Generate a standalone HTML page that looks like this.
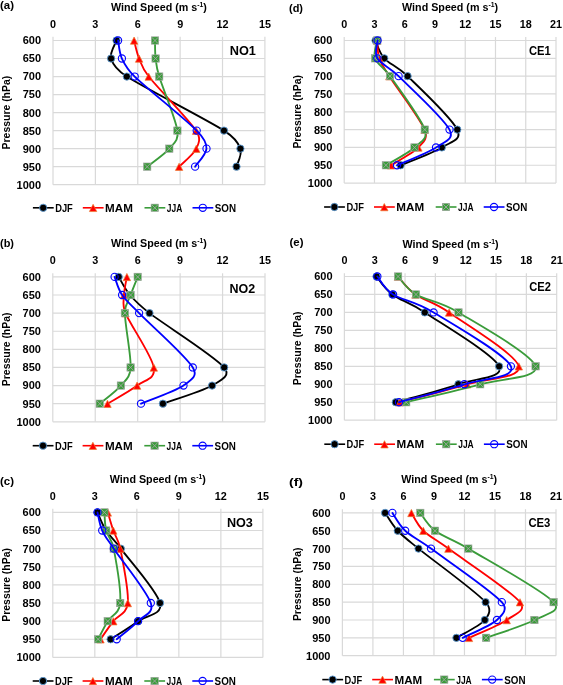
<!DOCTYPE html>
<html><head><meta charset="utf-8"><title>Wind speed profiles</title>
<style>html,body{margin:0;padding:0;background:#fff;width:563px;height:685px;overflow:hidden}svg{display:block;will-change:transform}</style>
</head><body><svg width="563" height="685" viewBox="0 0 563 685"><g stroke="#d9d9d9" stroke-width="1.2" fill="none"><line x1="53" y1="40.5" x2="264.9" y2="40.5"/><line x1="53" y1="58.52" x2="264.9" y2="58.52"/><line x1="53" y1="76.55" x2="264.9" y2="76.55"/><line x1="53" y1="94.57" x2="264.9" y2="94.57"/><line x1="53" y1="112.6" x2="264.9" y2="112.6"/><line x1="53" y1="130.62" x2="264.9" y2="130.62"/><line x1="53" y1="148.65" x2="264.9" y2="148.65"/><line x1="53" y1="166.67" x2="264.9" y2="166.67"/><line x1="53" y1="184.7" x2="264.9" y2="184.7"/><line x1="53" y1="36.8" x2="53" y2="184.7"/><line x1="95.38" y1="36.8" x2="95.38" y2="184.7"/><line x1="137.76" y1="36.8" x2="137.76" y2="184.7"/><line x1="180.14" y1="36.8" x2="180.14" y2="184.7"/><line x1="222.52" y1="36.8" x2="222.52" y2="184.7"/><line x1="264.9" y1="36.8" x2="264.9" y2="184.7"/></g><path d="M116.5,40.5 C115.6,43.5 109.38,52.52 111.1,58.52 C112.82,64.53 116.73,70.12 126.8,76.55 C145.62,88.57 205.07,118.61 224,130.62 C234.29,137.15 238.32,142.64 240.4,148.65 C242.48,154.66 237.15,163.67 236.5,166.67" fill="none" stroke="#000000" stroke-width="1.85" stroke-linejoin="round" stroke-linecap="round"/><circle cx="116.5" cy="40.5" r="3.65" fill="#000" stroke="#5b9bd5" stroke-width="0.9"/><circle cx="111.1" cy="58.52" r="3.65" fill="#000" stroke="#5b9bd5" stroke-width="0.9"/><circle cx="126.8" cy="76.55" r="3.65" fill="#000" stroke="#5b9bd5" stroke-width="0.9"/><circle cx="224" cy="130.62" r="3.65" fill="#000" stroke="#5b9bd5" stroke-width="0.9"/><circle cx="240.4" cy="148.65" r="3.65" fill="#000" stroke="#5b9bd5" stroke-width="0.9"/><circle cx="236.5" cy="166.67" r="3.65" fill="#000" stroke="#5b9bd5" stroke-width="0.9"/><path d="M134.1,40.5 C134.93,43.5 136.67,52.52 139.1,58.52 C141.53,64.53 142.37,68.54 148.7,76.55 C158.2,88.57 188.17,118.61 196.1,130.62 C201.07,138.15 199.13,142.64 196.3,148.65 C193.47,154.66 181.97,163.67 179.1,166.67" fill="none" stroke="#ff0000" stroke-width="1.85" stroke-linejoin="round" stroke-linecap="round"/><path d="M134.1,37 L137.8,44.25 L130.4,44.25 Z" fill="#ff0000" stroke="#ed7d31" stroke-width="0.7" stroke-linejoin="miter"/><path d="M139.1,55.02 L142.8,62.27 L135.4,62.27 Z" fill="#ff0000" stroke="#ed7d31" stroke-width="0.7" stroke-linejoin="miter"/><path d="M148.7,73.05 L152.4,80.3 L145,80.3 Z" fill="#ff0000" stroke="#ed7d31" stroke-width="0.7" stroke-linejoin="miter"/><path d="M196.1,127.12 L199.8,134.38 L192.4,134.38 Z" fill="#ff0000" stroke="#ed7d31" stroke-width="0.7" stroke-linejoin="miter"/><path d="M196.3,145.15 L200,152.4 L192.6,152.4 Z" fill="#ff0000" stroke="#ed7d31" stroke-width="0.7" stroke-linejoin="miter"/><path d="M179.1,163.17 L182.8,170.42 L175.4,170.42 Z" fill="#ff0000" stroke="#ed7d31" stroke-width="0.7" stroke-linejoin="miter"/><path d="M155,40.5 C155.1,43.5 154.9,52.52 155.6,58.52 C156.3,64.53 156.54,67.75 159.2,76.55 C162.83,88.57 175.72,118.61 177.4,130.62 C178.77,140.41 174.33,142.64 169.3,148.65 C164.27,154.66 150.88,163.67 147.2,166.67" fill="none" stroke="#3a9c3a" stroke-width="1.85" stroke-linejoin="round" stroke-linecap="round"/><rect x="151.3" y="36.8" width="7.4" height="7.4" fill="#3a9c3a" stroke="#a5a5a5" stroke-width="0.6"/><path d="M151.8,37.3 L158.2,43.7 M158.2,37.3 L151.8,43.7" stroke="#a5a5a5" stroke-width="0.9"/><rect x="151.9" y="54.82" width="7.4" height="7.4" fill="#3a9c3a" stroke="#a5a5a5" stroke-width="0.6"/><path d="M152.4,55.32 L158.8,61.73 M158.8,55.32 L152.4,61.73" stroke="#a5a5a5" stroke-width="0.9"/><rect x="155.5" y="72.85" width="7.4" height="7.4" fill="#3a9c3a" stroke="#a5a5a5" stroke-width="0.6"/><path d="M156,73.35 L162.4,79.75 M162.4,73.35 L156,79.75" stroke="#a5a5a5" stroke-width="0.9"/><rect x="173.7" y="126.92" width="7.4" height="7.4" fill="#3a9c3a" stroke="#a5a5a5" stroke-width="0.6"/><path d="M174.2,127.42 L180.6,133.82 M180.6,127.42 L174.2,133.82" stroke="#a5a5a5" stroke-width="0.9"/><rect x="165.6" y="144.95" width="7.4" height="7.4" fill="#3a9c3a" stroke="#a5a5a5" stroke-width="0.6"/><path d="M166.1,145.45 L172.5,151.85 M172.5,145.45 L166.1,151.85" stroke="#a5a5a5" stroke-width="0.9"/><rect x="143.5" y="162.97" width="7.4" height="7.4" fill="#3a9c3a" stroke="#a5a5a5" stroke-width="0.6"/><path d="M144,163.47 L150.4,169.87 M150.4,163.47 L144,169.87" stroke="#a5a5a5" stroke-width="0.9"/><path d="M118.1,40.5 C118.73,43.5 119.13,52.52 121.9,58.52 C124.67,64.53 126.74,68.88 134.7,76.55 C147.17,88.57 184.73,118.61 196.7,130.62 C203.94,137.89 206.77,142.64 206.5,148.65 C206.23,154.66 197,163.67 195.1,166.67" fill="none" stroke="#0000ff" stroke-width="1.85" stroke-linejoin="round" stroke-linecap="round"/><circle cx="118.1" cy="40.5" r="3.6" fill="none" stroke="#0000ff" stroke-width="1.1"/><circle cx="121.9" cy="58.52" r="3.6" fill="none" stroke="#0000ff" stroke-width="1.1"/><circle cx="134.7" cy="76.55" r="3.6" fill="none" stroke="#0000ff" stroke-width="1.1"/><circle cx="196.7" cy="130.62" r="3.6" fill="none" stroke="#0000ff" stroke-width="1.1"/><circle cx="206.5" cy="148.65" r="3.6" fill="none" stroke="#0000ff" stroke-width="1.1"/><circle cx="195.1" cy="166.67" r="3.6" fill="none" stroke="#0000ff" stroke-width="1.1"/><g font-family='"Liberation Sans", sans-serif' font-weight="bold" fill="#000"><text x="0" y="9.3" font-size="10.8" text-anchor="start" textLength="14" lengthAdjust="spacingAndGlyphs">(a)</text><text x="158.95" y="10.7" font-size="11" text-anchor="middle" textLength="96" lengthAdjust="spacingAndGlyphs">Wind Speed (m s<tspan font-size="7" dy="-4">-1</tspan><tspan dy="4">)</tspan></text><text x="53" y="28.1" font-size="10.8" text-anchor="middle">0</text><text x="95.38" y="28.1" font-size="10.8" text-anchor="middle">3</text><text x="137.76" y="28.1" font-size="10.8" text-anchor="middle">6</text><text x="180.14" y="28.1" font-size="10.8" text-anchor="middle">9</text><text x="222.52" y="28.1" font-size="10.8" text-anchor="middle">12</text><text x="264.9" y="28.1" font-size="10.8" text-anchor="middle">15</text><text x="41.1" y="44.4" font-size="11" text-anchor="end">600</text><text x="41.1" y="62.42" font-size="11" text-anchor="end">650</text><text x="41.1" y="80.45" font-size="11" text-anchor="end">700</text><text x="41.1" y="98.47" font-size="11" text-anchor="end">750</text><text x="41.1" y="116.5" font-size="11" text-anchor="end">800</text><text x="41.1" y="134.53" font-size="11" text-anchor="end">850</text><text x="41.1" y="152.55" font-size="11" text-anchor="end">900</text><text x="41.1" y="170.57" font-size="11" text-anchor="end">950</text><text x="41.1" y="188.6" font-size="11" text-anchor="end">1000</text><text x="0" y="0" font-size="10.8" text-anchor="middle" textLength="73.6" lengthAdjust="spacingAndGlyphs" transform="translate(10,112.6) rotate(-90)">Pressure (hPa)</text><text x="229.7" y="55.2" font-size="13" text-anchor="start" textLength="26.2" lengthAdjust="spacingAndGlyphs">NO1</text></g><g font-family='"Liberation Sans", sans-serif' font-weight="bold" fill="#000"><line x1="32.9" y1="207.8" x2="53.7" y2="207.8" stroke="#000000" stroke-width="1.6"/><circle cx="43.2" cy="207.8" r="3.65" fill="#000" stroke="#5b9bd5" stroke-width="0.9"/><text x="55.2" y="211.7" font-size="10.8" text-anchor="start" textLength="17.6" lengthAdjust="spacingAndGlyphs">DJF</text><line x1="82.8" y1="207.8" x2="103.6" y2="207.8" stroke="#ff0000" stroke-width="1.6"/><path d="M93.1,204.3 L96.8,211.55 L89.4,211.55 Z" fill="#ff0000" stroke="#ed7d31" stroke-width="0.7" stroke-linejoin="miter"/><text x="105.1" y="211.7" font-size="10.8" text-anchor="start" textLength="27.8" lengthAdjust="spacingAndGlyphs">MAM</text><line x1="144.5" y1="207.8" x2="165.3" y2="207.8" stroke="#3a9c3a" stroke-width="1.6"/><rect x="151.1" y="204.1" width="7.4" height="7.4" fill="#3a9c3a" stroke="#a5a5a5" stroke-width="0.6"/><path d="M151.6,204.6 L158,211 M158,204.6 L151.6,211" stroke="#a5a5a5" stroke-width="0.9"/><text x="166.8" y="211.7" font-size="10.8" text-anchor="start" textLength="15.5" lengthAdjust="spacingAndGlyphs">JJA</text><line x1="192.5" y1="207.8" x2="213.3" y2="207.8" stroke="#0000ff" stroke-width="1.6"/><circle cx="202.8" cy="207.8" r="3.6" fill="none" stroke="#0000ff" stroke-width="1.1"/><text x="214.8" y="211.7" font-size="10.8" text-anchor="start" textLength="21.3" lengthAdjust="spacingAndGlyphs">SON</text></g><g stroke="#d9d9d9" stroke-width="1.2" fill="none"><line x1="52.8" y1="276.9" x2="265" y2="276.9"/><line x1="52.8" y1="295.01" x2="265" y2="295.01"/><line x1="52.8" y1="313.12" x2="265" y2="313.12"/><line x1="52.8" y1="331.24" x2="265" y2="331.24"/><line x1="52.8" y1="349.35" x2="265" y2="349.35"/><line x1="52.8" y1="367.46" x2="265" y2="367.46"/><line x1="52.8" y1="385.57" x2="265" y2="385.57"/><line x1="52.8" y1="403.69" x2="265" y2="403.69"/><line x1="52.8" y1="421.8" x2="265" y2="421.8"/><line x1="52.8" y1="273.3" x2="52.8" y2="421.8"/><line x1="95.24" y1="273.3" x2="95.24" y2="421.8"/><line x1="137.68" y1="273.3" x2="137.68" y2="421.8"/><line x1="180.12" y1="273.3" x2="180.12" y2="421.8"/><line x1="222.56" y1="273.3" x2="222.56" y2="421.8"/><line x1="265" y1="273.3" x2="265" y2="421.8"/></g><path d="M118.7,276.9 C120.58,279.92 124.87,288.97 130,295.01 C135.13,301.05 138.95,305.01 149.5,313.12 C165.2,325.2 213.77,355.39 224.2,367.46 C231.32,375.7 221.48,380.03 212.1,385.57 C201.88,391.61 171.1,400.67 162.9,403.69" fill="none" stroke="#000000" stroke-width="1.85" stroke-linejoin="round" stroke-linecap="round"/><circle cx="118.7" cy="276.9" r="3.65" fill="#000" stroke="#5b9bd5" stroke-width="0.9"/><circle cx="130" cy="295.01" r="3.65" fill="#000" stroke="#5b9bd5" stroke-width="0.9"/><circle cx="149.5" cy="313.12" r="3.65" fill="#000" stroke="#5b9bd5" stroke-width="0.9"/><circle cx="224.2" cy="367.46" r="3.65" fill="#000" stroke="#5b9bd5" stroke-width="0.9"/><circle cx="212.1" cy="385.57" r="3.65" fill="#000" stroke="#5b9bd5" stroke-width="0.9"/><circle cx="162.9" cy="403.69" r="3.65" fill="#000" stroke="#5b9bd5" stroke-width="0.9"/><path d="M126.9,276.9 C126.42,279.92 124.23,288.97 124,295.01 C123.77,301.05 122.04,304.72 125.5,313.12 C130.47,325.2 151.87,355.39 153.8,367.46 C155.73,379.54 144.82,379.54 137.1,385.57 C129.38,391.61 112.43,400.67 107.5,403.69" fill="none" stroke="#ff0000" stroke-width="1.85" stroke-linejoin="round" stroke-linecap="round"/><path d="M126.9,273.4 L130.6,280.65 L123.2,280.65 Z" fill="#ff0000" stroke="#ed7d31" stroke-width="0.7" stroke-linejoin="miter"/><path d="M124,291.51 L127.7,298.76 L120.3,298.76 Z" fill="#ff0000" stroke="#ed7d31" stroke-width="0.7" stroke-linejoin="miter"/><path d="M125.5,309.62 L129.2,316.88 L121.8,316.88 Z" fill="#ff0000" stroke="#ed7d31" stroke-width="0.7" stroke-linejoin="miter"/><path d="M153.8,363.96 L157.5,371.21 L150.1,371.21 Z" fill="#ff0000" stroke="#ed7d31" stroke-width="0.7" stroke-linejoin="miter"/><path d="M137.1,382.07 L140.8,389.32 L133.4,389.32 Z" fill="#ff0000" stroke="#ed7d31" stroke-width="0.7" stroke-linejoin="miter"/><path d="M107.5,400.19 L111.2,407.44 L103.8,407.44 Z" fill="#ff0000" stroke="#ed7d31" stroke-width="0.7" stroke-linejoin="miter"/><path d="M137.7,276.9 C136.52,279.92 132.73,288.97 130.6,295.01 C128.47,301.05 124.9,303.63 124.9,313.12 C124.9,325.2 131.27,355.39 130.6,367.46 C130.03,377.72 126.03,379.54 120.9,385.57 C115.77,391.61 103.32,400.67 99.8,403.69" fill="none" stroke="#3a9c3a" stroke-width="1.85" stroke-linejoin="round" stroke-linecap="round"/><rect x="134" y="273.2" width="7.4" height="7.4" fill="#3a9c3a" stroke="#a5a5a5" stroke-width="0.6"/><path d="M134.5,273.7 L140.9,280.1 M140.9,273.7 L134.5,280.1" stroke="#a5a5a5" stroke-width="0.9"/><rect x="126.9" y="291.31" width="7.4" height="7.4" fill="#3a9c3a" stroke="#a5a5a5" stroke-width="0.6"/><path d="M127.4,291.81 L133.8,298.21 M133.8,291.81 L127.4,298.21" stroke="#a5a5a5" stroke-width="0.9"/><rect x="121.2" y="309.43" width="7.4" height="7.4" fill="#3a9c3a" stroke="#a5a5a5" stroke-width="0.6"/><path d="M121.7,309.93 L128.1,316.32 M128.1,309.93 L121.7,316.32" stroke="#a5a5a5" stroke-width="0.9"/><rect x="126.9" y="363.76" width="7.4" height="7.4" fill="#3a9c3a" stroke="#a5a5a5" stroke-width="0.6"/><path d="M127.4,364.26 L133.8,370.66 M133.8,364.26 L127.4,370.66" stroke="#a5a5a5" stroke-width="0.9"/><rect x="117.2" y="381.88" width="7.4" height="7.4" fill="#3a9c3a" stroke="#a5a5a5" stroke-width="0.6"/><path d="M117.7,382.38 L124.1,388.77 M124.1,382.38 L117.7,388.77" stroke="#a5a5a5" stroke-width="0.9"/><rect x="96.1" y="399.99" width="7.4" height="7.4" fill="#3a9c3a" stroke="#a5a5a5" stroke-width="0.6"/><path d="M96.6,400.49 L103,406.89 M103,400.49 L96.6,406.89" stroke="#a5a5a5" stroke-width="0.9"/><path d="M114.6,276.9 C115.85,279.92 118.02,288.97 122.1,295.01 C126.18,301.05 130.43,304.24 139.1,313.12 C150.88,325.2 185.4,355.39 192.8,367.46 C198.12,376.14 191.84,379.74 183.5,385.57 C174.87,391.61 148.08,400.67 141,403.69" fill="none" stroke="#0000ff" stroke-width="1.85" stroke-linejoin="round" stroke-linecap="round"/><circle cx="114.6" cy="276.9" r="3.6" fill="none" stroke="#0000ff" stroke-width="1.1"/><circle cx="122.1" cy="295.01" r="3.6" fill="none" stroke="#0000ff" stroke-width="1.1"/><circle cx="139.1" cy="313.12" r="3.6" fill="none" stroke="#0000ff" stroke-width="1.1"/><circle cx="192.8" cy="367.46" r="3.6" fill="none" stroke="#0000ff" stroke-width="1.1"/><circle cx="183.5" cy="385.57" r="3.6" fill="none" stroke="#0000ff" stroke-width="1.1"/><circle cx="141" cy="403.69" r="3.6" fill="none" stroke="#0000ff" stroke-width="1.1"/><g font-family='"Liberation Sans", sans-serif' font-weight="bold" fill="#000"><text x="0" y="246.5" font-size="10.8" text-anchor="start" textLength="14" lengthAdjust="spacingAndGlyphs">(b)</text><text x="158.9" y="247.4" font-size="11" text-anchor="middle" textLength="96" lengthAdjust="spacingAndGlyphs">Wind Speed (m s<tspan font-size="7" dy="-4">-1</tspan><tspan dy="4">)</tspan></text><text x="52.8" y="264.3" font-size="10.8" text-anchor="middle">0</text><text x="95.24" y="264.3" font-size="10.8" text-anchor="middle">3</text><text x="137.68" y="264.3" font-size="10.8" text-anchor="middle">6</text><text x="180.12" y="264.3" font-size="10.8" text-anchor="middle">9</text><text x="222.56" y="264.3" font-size="10.8" text-anchor="middle">12</text><text x="265" y="264.3" font-size="10.8" text-anchor="middle">15</text><text x="40.9" y="280.8" font-size="11" text-anchor="end">600</text><text x="40.9" y="298.91" font-size="11" text-anchor="end">650</text><text x="40.9" y="317.02" font-size="11" text-anchor="end">700</text><text x="40.9" y="335.14" font-size="11" text-anchor="end">750</text><text x="40.9" y="353.25" font-size="11" text-anchor="end">800</text><text x="40.9" y="371.36" font-size="11" text-anchor="end">850</text><text x="40.9" y="389.47" font-size="11" text-anchor="end">900</text><text x="40.9" y="407.59" font-size="11" text-anchor="end">950</text><text x="40.9" y="425.7" font-size="11" text-anchor="end">1000</text><text x="0" y="0" font-size="10.8" text-anchor="middle" textLength="73.6" lengthAdjust="spacingAndGlyphs" transform="translate(10,349.35) rotate(-90)">Pressure (hPa)</text><text x="229.5" y="292.7" font-size="13" text-anchor="start" textLength="25.7" lengthAdjust="spacingAndGlyphs">NO2</text></g><g font-family='"Liberation Sans", sans-serif' font-weight="bold" fill="#000"><line x1="32.7" y1="445.7" x2="53.5" y2="445.7" stroke="#000000" stroke-width="1.6"/><circle cx="43" cy="445.7" r="3.65" fill="#000" stroke="#5b9bd5" stroke-width="0.9"/><text x="55" y="449.6" font-size="10.8" text-anchor="start" textLength="17.6" lengthAdjust="spacingAndGlyphs">DJF</text><line x1="82.6" y1="445.7" x2="103.4" y2="445.7" stroke="#ff0000" stroke-width="1.6"/><path d="M92.9,442.2 L96.6,449.45 L89.2,449.45 Z" fill="#ff0000" stroke="#ed7d31" stroke-width="0.7" stroke-linejoin="miter"/><text x="104.9" y="449.6" font-size="10.8" text-anchor="start" textLength="27.8" lengthAdjust="spacingAndGlyphs">MAM</text><line x1="144.3" y1="445.7" x2="165.1" y2="445.7" stroke="#3a9c3a" stroke-width="1.6"/><rect x="150.9" y="442" width="7.4" height="7.4" fill="#3a9c3a" stroke="#a5a5a5" stroke-width="0.6"/><path d="M151.4,442.5 L157.8,448.9 M157.8,442.5 L151.4,448.9" stroke="#a5a5a5" stroke-width="0.9"/><text x="166.6" y="449.6" font-size="10.8" text-anchor="start" textLength="15.5" lengthAdjust="spacingAndGlyphs">JJA</text><line x1="192.3" y1="445.7" x2="213.1" y2="445.7" stroke="#0000ff" stroke-width="1.6"/><circle cx="202.6" cy="445.7" r="3.6" fill="none" stroke="#0000ff" stroke-width="1.1"/><text x="214.6" y="449.6" font-size="10.8" text-anchor="start" textLength="21.3" lengthAdjust="spacingAndGlyphs">SON</text></g><g stroke="#d9d9d9" stroke-width="1.2" fill="none"><line x1="52.8" y1="512.4" x2="262.9" y2="512.4"/><line x1="52.8" y1="530.52" x2="262.9" y2="530.52"/><line x1="52.8" y1="548.65" x2="262.9" y2="548.65"/><line x1="52.8" y1="566.77" x2="262.9" y2="566.77"/><line x1="52.8" y1="584.9" x2="262.9" y2="584.9"/><line x1="52.8" y1="603.02" x2="262.9" y2="603.02"/><line x1="52.8" y1="621.15" x2="262.9" y2="621.15"/><line x1="52.8" y1="639.27" x2="262.9" y2="639.27"/><line x1="52.8" y1="657.4" x2="262.9" y2="657.4"/><line x1="52.8" y1="508.7" x2="52.8" y2="657.4"/><line x1="94.82" y1="508.7" x2="94.82" y2="657.4"/><line x1="136.84" y1="508.7" x2="136.84" y2="657.4"/><line x1="178.86" y1="508.7" x2="178.86" y2="657.4"/><line x1="220.88" y1="508.7" x2="220.88" y2="657.4"/><line x1="262.9" y1="508.7" x2="262.9" y2="657.4"/></g><path d="M97.5,512.4 C98.92,515.42 102.12,524.48 106,530.52 C109.88,536.57 113.81,539.27 120.8,548.65 C129.8,560.73 157.12,590.94 160,603.02 C162.88,615.11 146.33,615.11 138.1,621.15 C129.87,627.19 115.18,636.25 110.6,639.27" fill="none" stroke="#000000" stroke-width="1.85" stroke-linejoin="round" stroke-linecap="round"/><circle cx="97.5" cy="512.4" r="3.65" fill="#000" stroke="#5b9bd5" stroke-width="0.9"/><circle cx="106" cy="530.52" r="3.65" fill="#000" stroke="#5b9bd5" stroke-width="0.9"/><circle cx="120.8" cy="548.65" r="3.65" fill="#000" stroke="#5b9bd5" stroke-width="0.9"/><circle cx="160" cy="603.02" r="3.65" fill="#000" stroke="#5b9bd5" stroke-width="0.9"/><circle cx="138.1" cy="621.15" r="3.65" fill="#000" stroke="#5b9bd5" stroke-width="0.9"/><circle cx="110.6" cy="639.27" r="3.65" fill="#000" stroke="#5b9bd5" stroke-width="0.9"/><path d="M107.8,512.4 C108.72,515.42 111.22,524.48 113.3,530.52 C115.38,536.57 118.39,539.12 120.3,548.65 C122.72,560.73 128.97,590.94 127.8,603.02 C126.68,614.58 117.85,615.11 113.3,621.15 C108.75,627.19 102.63,636.25 100.5,639.27" fill="none" stroke="#ff0000" stroke-width="1.85" stroke-linejoin="round" stroke-linecap="round"/><path d="M107.8,508.9 L111.5,516.15 L104.1,516.15 Z" fill="#ff0000" stroke="#ed7d31" stroke-width="0.7" stroke-linejoin="miter"/><path d="M113.3,527.02 L117,534.27 L109.6,534.27 Z" fill="#ff0000" stroke="#ed7d31" stroke-width="0.7" stroke-linejoin="miter"/><path d="M120.3,545.15 L124,552.4 L116.6,552.4 Z" fill="#ff0000" stroke="#ed7d31" stroke-width="0.7" stroke-linejoin="miter"/><path d="M127.8,599.52 L131.5,606.77 L124.1,606.77 Z" fill="#ff0000" stroke="#ed7d31" stroke-width="0.7" stroke-linejoin="miter"/><path d="M113.3,617.65 L117,624.9 L109.6,624.9 Z" fill="#ff0000" stroke="#ed7d31" stroke-width="0.7" stroke-linejoin="miter"/><path d="M100.5,635.77 L104.2,643.02 L96.8,643.02 Z" fill="#ff0000" stroke="#ed7d31" stroke-width="0.7" stroke-linejoin="miter"/><path d="M104.4,512.4 C104.7,515.42 104.65,524.48 106.2,530.52 C107.75,536.57 111.84,539.02 113.7,548.65 C116.03,560.73 121.2,590.94 120.2,603.02 C119.29,614 111.38,615.11 107.7,621.15 C104.02,627.19 99.7,636.25 98.1,639.27" fill="none" stroke="#3a9c3a" stroke-width="1.85" stroke-linejoin="round" stroke-linecap="round"/><rect x="100.7" y="508.7" width="7.4" height="7.4" fill="#3a9c3a" stroke="#a5a5a5" stroke-width="0.6"/><path d="M101.2,509.2 L107.6,515.6 M107.6,509.2 L101.2,515.6" stroke="#a5a5a5" stroke-width="0.9"/><rect x="102.5" y="526.82" width="7.4" height="7.4" fill="#3a9c3a" stroke="#a5a5a5" stroke-width="0.6"/><path d="M103,527.32 L109.4,533.73 M109.4,527.32 L103,533.73" stroke="#a5a5a5" stroke-width="0.9"/><rect x="110" y="544.95" width="7.4" height="7.4" fill="#3a9c3a" stroke="#a5a5a5" stroke-width="0.6"/><path d="M110.5,545.45 L116.9,551.85 M116.9,545.45 L110.5,551.85" stroke="#a5a5a5" stroke-width="0.9"/><rect x="116.5" y="599.32" width="7.4" height="7.4" fill="#3a9c3a" stroke="#a5a5a5" stroke-width="0.6"/><path d="M117,599.82 L123.4,606.23 M123.4,599.82 L117,606.23" stroke="#a5a5a5" stroke-width="0.9"/><rect x="104" y="617.45" width="7.4" height="7.4" fill="#3a9c3a" stroke="#a5a5a5" stroke-width="0.6"/><path d="M104.5,617.95 L110.9,624.35 M110.9,617.95 L104.5,624.35" stroke="#a5a5a5" stroke-width="0.9"/><rect x="94.4" y="635.57" width="7.4" height="7.4" fill="#3a9c3a" stroke="#a5a5a5" stroke-width="0.6"/><path d="M94.9,636.07 L101.3,642.48 M101.3,636.07 L94.9,642.48" stroke="#a5a5a5" stroke-width="0.9"/><path d="M97.5,512.4 C98.28,515.42 99.48,524.48 102.2,530.52 C104.92,536.57 107.81,539.71 113.8,548.65 C121.9,560.73 146.75,590.94 150.8,603.02 C154.32,613.52 143.78,615.11 138.1,621.15 C132.42,627.19 120.27,636.25 116.7,639.27" fill="none" stroke="#0000ff" stroke-width="1.85" stroke-linejoin="round" stroke-linecap="round"/><circle cx="97.5" cy="512.4" r="3.6" fill="none" stroke="#0000ff" stroke-width="1.1"/><circle cx="102.2" cy="530.52" r="3.6" fill="none" stroke="#0000ff" stroke-width="1.1"/><circle cx="113.8" cy="548.65" r="3.6" fill="none" stroke="#0000ff" stroke-width="1.1"/><circle cx="150.8" cy="603.02" r="3.6" fill="none" stroke="#0000ff" stroke-width="1.1"/><circle cx="138.1" cy="621.15" r="3.6" fill="none" stroke="#0000ff" stroke-width="1.1"/><circle cx="116.7" cy="639.27" r="3.6" fill="none" stroke="#0000ff" stroke-width="1.1"/><g font-family='"Liberation Sans", sans-serif' font-weight="bold" fill="#000"><text x="0" y="484.8" font-size="10.8" text-anchor="start" textLength="14" lengthAdjust="spacingAndGlyphs">(c)</text><text x="157.85" y="482.9" font-size="11" text-anchor="middle" textLength="96" lengthAdjust="spacingAndGlyphs">Wind Speed (m s<tspan font-size="7" dy="-4">-1</tspan><tspan dy="4">)</tspan></text><text x="52.8" y="499.8" font-size="10.8" text-anchor="middle">0</text><text x="94.82" y="499.8" font-size="10.8" text-anchor="middle">3</text><text x="136.84" y="499.8" font-size="10.8" text-anchor="middle">6</text><text x="178.86" y="499.8" font-size="10.8" text-anchor="middle">9</text><text x="220.88" y="499.8" font-size="10.8" text-anchor="middle">12</text><text x="262.9" y="499.8" font-size="10.8" text-anchor="middle">15</text><text x="40.9" y="516.3" font-size="11" text-anchor="end">600</text><text x="40.9" y="534.42" font-size="11" text-anchor="end">650</text><text x="40.9" y="552.55" font-size="11" text-anchor="end">700</text><text x="40.9" y="570.67" font-size="11" text-anchor="end">750</text><text x="40.9" y="588.8" font-size="11" text-anchor="end">800</text><text x="40.9" y="606.92" font-size="11" text-anchor="end">850</text><text x="40.9" y="625.05" font-size="11" text-anchor="end">900</text><text x="40.9" y="643.17" font-size="11" text-anchor="end">950</text><text x="40.9" y="661.3" font-size="11" text-anchor="end">1000</text><text x="0" y="0" font-size="10.8" text-anchor="middle" textLength="73.6" lengthAdjust="spacingAndGlyphs" transform="translate(10,584.9) rotate(-90)">Pressure (hPa)</text><text x="226.9" y="526.7" font-size="13" text-anchor="start" textLength="26" lengthAdjust="spacingAndGlyphs">NO3</text></g><g font-family='"Liberation Sans", sans-serif' font-weight="bold" fill="#000"><line x1="32.7" y1="681" x2="53.5" y2="681" stroke="#000000" stroke-width="1.6"/><circle cx="43" cy="681" r="3.65" fill="#000" stroke="#5b9bd5" stroke-width="0.9"/><text x="55" y="684.9" font-size="10.8" text-anchor="start" textLength="17.6" lengthAdjust="spacingAndGlyphs">DJF</text><line x1="82.6" y1="681" x2="103.4" y2="681" stroke="#ff0000" stroke-width="1.6"/><path d="M92.9,677.5 L96.6,684.75 L89.2,684.75 Z" fill="#ff0000" stroke="#ed7d31" stroke-width="0.7" stroke-linejoin="miter"/><text x="104.9" y="684.9" font-size="10.8" text-anchor="start" textLength="27.8" lengthAdjust="spacingAndGlyphs">MAM</text><line x1="144.3" y1="681" x2="165.1" y2="681" stroke="#3a9c3a" stroke-width="1.6"/><rect x="150.9" y="677.3" width="7.4" height="7.4" fill="#3a9c3a" stroke="#a5a5a5" stroke-width="0.6"/><path d="M151.4,677.8 L157.8,684.2 M157.8,677.8 L151.4,684.2" stroke="#a5a5a5" stroke-width="0.9"/><text x="166.6" y="684.9" font-size="10.8" text-anchor="start" textLength="15.5" lengthAdjust="spacingAndGlyphs">JJA</text><line x1="192.3" y1="681" x2="213.1" y2="681" stroke="#0000ff" stroke-width="1.6"/><circle cx="202.6" cy="681" r="3.6" fill="none" stroke="#0000ff" stroke-width="1.1"/><text x="214.6" y="684.9" font-size="10.8" text-anchor="start" textLength="21.3" lengthAdjust="spacingAndGlyphs">SON</text></g><g stroke="#d9d9d9" stroke-width="1.2" fill="none"><line x1="344.2" y1="40.5" x2="556" y2="40.5"/><line x1="344.2" y1="58.33" x2="556" y2="58.33"/><line x1="344.2" y1="76.15" x2="556" y2="76.15"/><line x1="344.2" y1="93.97" x2="556" y2="93.97"/><line x1="344.2" y1="111.8" x2="556" y2="111.8"/><line x1="344.2" y1="129.62" x2="556" y2="129.62"/><line x1="344.2" y1="147.45" x2="556" y2="147.45"/><line x1="344.2" y1="165.27" x2="556" y2="165.27"/><line x1="344.2" y1="183.1" x2="556" y2="183.1"/><line x1="344.2" y1="37.05" x2="344.2" y2="183.1"/><line x1="374.46" y1="37.05" x2="374.46" y2="183.1"/><line x1="404.71" y1="37.05" x2="404.71" y2="183.1"/><line x1="434.97" y1="37.05" x2="434.97" y2="183.1"/><line x1="465.23" y1="37.05" x2="465.23" y2="183.1"/><line x1="495.49" y1="37.05" x2="495.49" y2="183.1"/><line x1="525.74" y1="37.05" x2="525.74" y2="183.1"/><line x1="556" y1="37.05" x2="556" y2="183.1"/></g><path d="M375.5,40.5 C376.97,43.47 378.95,52.38 384.3,58.33 C389.65,64.27 397.11,65.9 407.6,76.15 C419.77,88.03 451.6,117.74 457.3,129.62 C462.41,140.27 451.25,141.51 441.8,147.45 C432.35,153.39 407.47,162.3 400.6,165.27" fill="none" stroke="#000000" stroke-width="1.85" stroke-linejoin="round" stroke-linecap="round"/><circle cx="375.5" cy="40.5" r="3.65" fill="#000" stroke="#5b9bd5" stroke-width="0.9"/><circle cx="384.3" cy="58.33" r="3.65" fill="#000" stroke="#5b9bd5" stroke-width="0.9"/><circle cx="407.6" cy="76.15" r="3.65" fill="#000" stroke="#5b9bd5" stroke-width="0.9"/><circle cx="457.3" cy="129.62" r="3.65" fill="#000" stroke="#5b9bd5" stroke-width="0.9"/><circle cx="441.8" cy="147.45" r="3.65" fill="#000" stroke="#5b9bd5" stroke-width="0.9"/><circle cx="400.6" cy="165.27" r="3.65" fill="#000" stroke="#5b9bd5" stroke-width="0.9"/><path d="M377.2,40.5 C377.55,43.47 377.28,52.38 379.3,58.33 C381.32,64.27 383.82,67.52 389.3,76.15 C396.85,88.03 419.75,117.74 424.6,129.62 C428.17,138.36 424,141.51 418.4,147.45 C412.8,153.39 395.57,162.3 391,165.27" fill="none" stroke="#ff0000" stroke-width="1.85" stroke-linejoin="round" stroke-linecap="round"/><path d="M377.2,37 L380.9,44.25 L373.5,44.25 Z" fill="#ff0000" stroke="#ed7d31" stroke-width="0.7" stroke-linejoin="miter"/><path d="M379.3,54.83 L383,62.08 L375.6,62.08 Z" fill="#ff0000" stroke="#ed7d31" stroke-width="0.7" stroke-linejoin="miter"/><path d="M389.3,72.65 L393,79.9 L385.6,79.9 Z" fill="#ff0000" stroke="#ed7d31" stroke-width="0.7" stroke-linejoin="miter"/><path d="M424.6,126.12 L428.3,133.38 L420.9,133.38 Z" fill="#ff0000" stroke="#ed7d31" stroke-width="0.7" stroke-linejoin="miter"/><path d="M418.4,143.95 L422.1,151.2 L414.7,151.2 Z" fill="#ff0000" stroke="#ed7d31" stroke-width="0.7" stroke-linejoin="miter"/><path d="M391,161.77 L394.7,169.02 L387.3,169.02 Z" fill="#ff0000" stroke="#ed7d31" stroke-width="0.7" stroke-linejoin="miter"/><path d="M377.3,40.5 C376.93,43.47 372.98,52.38 375.1,58.33 C377.22,64.27 383.36,66.62 390,76.15 C398.28,88.03 420.72,117.74 424.8,129.62 C428.15,139.36 420.98,141.51 414.5,147.45 C408.02,153.39 390.67,162.3 385.9,165.27" fill="none" stroke="#3a9c3a" stroke-width="1.85" stroke-linejoin="round" stroke-linecap="round"/><rect x="373.6" y="36.8" width="7.4" height="7.4" fill="#3a9c3a" stroke="#a5a5a5" stroke-width="0.6"/><path d="M374.1,37.3 L380.5,43.7 M380.5,37.3 L374.1,43.7" stroke="#a5a5a5" stroke-width="0.9"/><rect x="371.4" y="54.62" width="7.4" height="7.4" fill="#3a9c3a" stroke="#a5a5a5" stroke-width="0.6"/><path d="M371.9,55.12 L378.3,61.53 M378.3,55.12 L371.9,61.53" stroke="#a5a5a5" stroke-width="0.9"/><rect x="386.3" y="72.45" width="7.4" height="7.4" fill="#3a9c3a" stroke="#a5a5a5" stroke-width="0.6"/><path d="M386.8,72.95 L393.2,79.35 M393.2,72.95 L386.8,79.35" stroke="#a5a5a5" stroke-width="0.9"/><rect x="421.1" y="125.92" width="7.4" height="7.4" fill="#3a9c3a" stroke="#a5a5a5" stroke-width="0.6"/><path d="M421.6,126.42 L428,132.82 M428,126.42 L421.6,132.82" stroke="#a5a5a5" stroke-width="0.9"/><rect x="410.8" y="143.75" width="7.4" height="7.4" fill="#3a9c3a" stroke="#a5a5a5" stroke-width="0.6"/><path d="M411.3,144.25 L417.7,150.65 M417.7,144.25 L411.3,150.65" stroke="#a5a5a5" stroke-width="0.9"/><rect x="382.2" y="161.57" width="7.4" height="7.4" fill="#3a9c3a" stroke="#a5a5a5" stroke-width="0.6"/><path d="M382.7,162.07 L389.1,168.47 M389.1,162.07 L382.7,168.47" stroke="#a5a5a5" stroke-width="0.9"/><path d="M377.6,40.5 C377.57,43.47 373.9,52.38 377.4,58.33 C380.9,64.27 388.75,66.41 398.6,76.15 C410.62,88.03 443.27,117.74 449.5,129.62 C454.69,139.53 444.75,141.51 436,147.45 C427.25,153.39 403.5,162.3 397,165.27" fill="none" stroke="#0000ff" stroke-width="1.85" stroke-linejoin="round" stroke-linecap="round"/><circle cx="377.6" cy="40.5" r="3.6" fill="none" stroke="#0000ff" stroke-width="1.1"/><circle cx="377.4" cy="58.33" r="3.6" fill="none" stroke="#0000ff" stroke-width="1.1"/><circle cx="398.6" cy="76.15" r="3.6" fill="none" stroke="#0000ff" stroke-width="1.1"/><circle cx="449.5" cy="129.62" r="3.6" fill="none" stroke="#0000ff" stroke-width="1.1"/><circle cx="436" cy="147.45" r="3.6" fill="none" stroke="#0000ff" stroke-width="1.1"/><circle cx="397" cy="165.27" r="3.6" fill="none" stroke="#0000ff" stroke-width="1.1"/><g font-family='"Liberation Sans", sans-serif' font-weight="bold" fill="#000"><text x="289" y="11.5" font-size="10.8" text-anchor="start" textLength="14" lengthAdjust="spacingAndGlyphs">(d)</text><text x="450.1" y="11.1" font-size="11" text-anchor="middle" textLength="96" lengthAdjust="spacingAndGlyphs">Wind Speed (m s<tspan font-size="7" dy="-4">-1</tspan><tspan dy="4">)</tspan></text><text x="344.2" y="27.9" font-size="10.8" text-anchor="middle">0</text><text x="374.46" y="27.9" font-size="10.8" text-anchor="middle">3</text><text x="404.71" y="27.9" font-size="10.8" text-anchor="middle">6</text><text x="434.97" y="27.9" font-size="10.8" text-anchor="middle">9</text><text x="465.23" y="27.9" font-size="10.8" text-anchor="middle">12</text><text x="495.49" y="27.9" font-size="10.8" text-anchor="middle">15</text><text x="525.74" y="27.9" font-size="10.8" text-anchor="middle">18</text><text x="556" y="27.9" font-size="10.8" text-anchor="middle">21</text><text x="332.3" y="44.4" font-size="11" text-anchor="end">600</text><text x="332.3" y="62.23" font-size="11" text-anchor="end">650</text><text x="332.3" y="80.05" font-size="11" text-anchor="end">700</text><text x="332.3" y="97.88" font-size="11" text-anchor="end">750</text><text x="332.3" y="115.7" font-size="11" text-anchor="end">800</text><text x="332.3" y="133.53" font-size="11" text-anchor="end">850</text><text x="332.3" y="151.35" font-size="11" text-anchor="end">900</text><text x="332.3" y="169.17" font-size="11" text-anchor="end">950</text><text x="332.3" y="187" font-size="11" text-anchor="end">1000</text><text x="0" y="0" font-size="10.8" text-anchor="middle" textLength="73.6" lengthAdjust="spacingAndGlyphs" transform="translate(301.3,111.8) rotate(-90)">Pressure (hPa)</text><text x="528.9" y="55" font-size="13" text-anchor="start" textLength="21.8" lengthAdjust="spacingAndGlyphs">CE1</text></g><g font-family='"Liberation Sans", sans-serif' font-weight="bold" fill="#000"><line x1="324.1" y1="207" x2="344.9" y2="207" stroke="#000000" stroke-width="1.6"/><circle cx="334.4" cy="207" r="3.65" fill="#000" stroke="#5b9bd5" stroke-width="0.9"/><text x="346.4" y="210.9" font-size="10.8" text-anchor="start" textLength="17.6" lengthAdjust="spacingAndGlyphs">DJF</text><line x1="374" y1="207" x2="394.8" y2="207" stroke="#ff0000" stroke-width="1.6"/><path d="M384.3,203.5 L388,210.75 L380.6,210.75 Z" fill="#ff0000" stroke="#ed7d31" stroke-width="0.7" stroke-linejoin="miter"/><text x="396.3" y="210.9" font-size="10.8" text-anchor="start" textLength="27.8" lengthAdjust="spacingAndGlyphs">MAM</text><line x1="435.7" y1="207" x2="456.5" y2="207" stroke="#3a9c3a" stroke-width="1.6"/><rect x="442.3" y="203.3" width="7.4" height="7.4" fill="#3a9c3a" stroke="#a5a5a5" stroke-width="0.6"/><path d="M442.8,203.8 L449.2,210.2 M449.2,203.8 L442.8,210.2" stroke="#a5a5a5" stroke-width="0.9"/><text x="458" y="210.9" font-size="10.8" text-anchor="start" textLength="15.5" lengthAdjust="spacingAndGlyphs">JJA</text><line x1="483.7" y1="207" x2="504.5" y2="207" stroke="#0000ff" stroke-width="1.6"/><circle cx="494" cy="207" r="3.6" fill="none" stroke="#0000ff" stroke-width="1.1"/><text x="506" y="210.9" font-size="10.8" text-anchor="start" textLength="21.3" lengthAdjust="spacingAndGlyphs">SON</text></g><g stroke="#d9d9d9" stroke-width="1.2" fill="none"><line x1="344.4" y1="276.5" x2="556.7" y2="276.5"/><line x1="344.4" y1="294.46" x2="556.7" y2="294.46"/><line x1="344.4" y1="312.43" x2="556.7" y2="312.43"/><line x1="344.4" y1="330.39" x2="556.7" y2="330.39"/><line x1="344.4" y1="348.35" x2="556.7" y2="348.35"/><line x1="344.4" y1="366.31" x2="556.7" y2="366.31"/><line x1="344.4" y1="384.27" x2="556.7" y2="384.27"/><line x1="344.4" y1="402.24" x2="556.7" y2="402.24"/><line x1="344.4" y1="420.2" x2="556.7" y2="420.2"/><line x1="344.4" y1="273.3" x2="344.4" y2="420.2"/><line x1="374.73" y1="273.3" x2="374.73" y2="420.2"/><line x1="405.06" y1="273.3" x2="405.06" y2="420.2"/><line x1="435.39" y1="273.3" x2="435.39" y2="420.2"/><line x1="465.71" y1="273.3" x2="465.71" y2="420.2"/><line x1="496.04" y1="273.3" x2="496.04" y2="420.2"/><line x1="526.37" y1="273.3" x2="526.37" y2="420.2"/><line x1="556.7" y1="273.3" x2="556.7" y2="420.2"/></g><path d="M376.5,276.5 C379.13,279.49 384.25,288.47 392.3,294.46 C400.35,300.45 409.39,302.06 424.8,312.43 C442.6,324.4 493.5,354.34 499.1,366.31 C504.7,378.29 475.62,378.29 458.4,384.27 C441.18,390.26 406.23,399.24 395.8,402.24" fill="none" stroke="#000000" stroke-width="1.85" stroke-linejoin="round" stroke-linecap="round"/><circle cx="376.5" cy="276.5" r="3.65" fill="#000" stroke="#5b9bd5" stroke-width="0.9"/><circle cx="392.3" cy="294.46" r="3.65" fill="#000" stroke="#5b9bd5" stroke-width="0.9"/><circle cx="424.8" cy="312.43" r="3.65" fill="#000" stroke="#5b9bd5" stroke-width="0.9"/><circle cx="499.1" cy="366.31" r="3.65" fill="#000" stroke="#5b9bd5" stroke-width="0.9"/><circle cx="458.4" cy="384.27" r="3.65" fill="#000" stroke="#5b9bd5" stroke-width="0.9"/><circle cx="395.8" cy="402.24" r="3.65" fill="#000" stroke="#5b9bd5" stroke-width="0.9"/><path d="M398,276.5 C400.9,279.49 406.88,288.47 415.4,294.46 C423.92,300.45 433.42,301.53 449.1,312.43 C466.33,324.4 515.82,354.34 518.8,366.31 C521.78,378.29 486.83,378.29 467,384.27 C447.17,390.26 411,399.24 399.8,402.24" fill="none" stroke="#ff0000" stroke-width="1.85" stroke-linejoin="round" stroke-linecap="round"/><path d="M398,273 L401.7,280.25 L394.3,280.25 Z" fill="#ff0000" stroke="#ed7d31" stroke-width="0.7" stroke-linejoin="miter"/><path d="M415.4,290.96 L419.1,298.21 L411.7,298.21 Z" fill="#ff0000" stroke="#ed7d31" stroke-width="0.7" stroke-linejoin="miter"/><path d="M449.1,308.93 L452.8,316.18 L445.4,316.18 Z" fill="#ff0000" stroke="#ed7d31" stroke-width="0.7" stroke-linejoin="miter"/><path d="M518.8,362.81 L522.5,370.06 L515.1,370.06 Z" fill="#ff0000" stroke="#ed7d31" stroke-width="0.7" stroke-linejoin="miter"/><path d="M467,380.77 L470.7,388.02 L463.3,388.02 Z" fill="#ff0000" stroke="#ed7d31" stroke-width="0.7" stroke-linejoin="miter"/><path d="M399.8,398.74 L403.5,405.99 L396.1,405.99 Z" fill="#ff0000" stroke="#ed7d31" stroke-width="0.7" stroke-linejoin="miter"/><path d="M398.1,276.5 C401.08,279.49 405.93,288.47 416,294.46 C426.07,300.45 438.72,300.54 458.5,312.43 C478.43,324.4 531.98,354.34 535.6,366.31 C539.22,378.29 501.77,378.29 480.2,384.27 C458.63,390.26 418.53,399.24 406.2,402.24" fill="none" stroke="#3a9c3a" stroke-width="1.85" stroke-linejoin="round" stroke-linecap="round"/><rect x="394.4" y="272.8" width="7.4" height="7.4" fill="#3a9c3a" stroke="#a5a5a5" stroke-width="0.6"/><path d="M394.9,273.3 L401.3,279.7 M401.3,273.3 L394.9,279.7" stroke="#a5a5a5" stroke-width="0.9"/><rect x="412.3" y="290.76" width="7.4" height="7.4" fill="#3a9c3a" stroke="#a5a5a5" stroke-width="0.6"/><path d="M412.8,291.26 L419.2,297.66 M419.2,291.26 L412.8,297.66" stroke="#a5a5a5" stroke-width="0.9"/><rect x="454.8" y="308.73" width="7.4" height="7.4" fill="#3a9c3a" stroke="#a5a5a5" stroke-width="0.6"/><path d="M455.3,309.23 L461.7,315.62 M461.7,309.23 L455.3,315.62" stroke="#a5a5a5" stroke-width="0.9"/><rect x="531.9" y="362.61" width="7.4" height="7.4" fill="#3a9c3a" stroke="#a5a5a5" stroke-width="0.6"/><path d="M532.4,363.11 L538.8,369.51 M538.8,363.11 L532.4,369.51" stroke="#a5a5a5" stroke-width="0.9"/><rect x="476.5" y="380.57" width="7.4" height="7.4" fill="#3a9c3a" stroke="#a5a5a5" stroke-width="0.6"/><path d="M477,381.07 L483.4,387.47 M483.4,381.07 L477,387.47" stroke="#a5a5a5" stroke-width="0.9"/><rect x="402.5" y="398.54" width="7.4" height="7.4" fill="#3a9c3a" stroke="#a5a5a5" stroke-width="0.6"/><path d="M403,399.04 L409.4,405.44 M409.4,399.04 L403,405.44" stroke="#a5a5a5" stroke-width="0.9"/><path d="M377.4,276.5 C380.02,279.49 383.73,288.47 393.1,294.46 C402.47,300.45 414.69,300.89 433.6,312.43 C453.23,324.4 505.77,354.34 510.9,366.31 C516.03,378.29 483.05,378.29 464.4,384.27 C445.75,390.26 409.9,399.24 399,402.24" fill="none" stroke="#0000ff" stroke-width="1.85" stroke-linejoin="round" stroke-linecap="round"/><circle cx="377.4" cy="276.5" r="3.6" fill="none" stroke="#0000ff" stroke-width="1.1"/><circle cx="393.1" cy="294.46" r="3.6" fill="none" stroke="#0000ff" stroke-width="1.1"/><circle cx="433.6" cy="312.43" r="3.6" fill="none" stroke="#0000ff" stroke-width="1.1"/><circle cx="510.9" cy="366.31" r="3.6" fill="none" stroke="#0000ff" stroke-width="1.1"/><circle cx="464.4" cy="384.27" r="3.6" fill="none" stroke="#0000ff" stroke-width="1.1"/><circle cx="399" cy="402.24" r="3.6" fill="none" stroke="#0000ff" stroke-width="1.1"/><g font-family='"Liberation Sans", sans-serif' font-weight="bold" fill="#000"><text x="289.5" y="245.8" font-size="10.8" text-anchor="start" textLength="14" lengthAdjust="spacingAndGlyphs">(e)</text><text x="450.55" y="247.8" font-size="11" text-anchor="middle" textLength="96" lengthAdjust="spacingAndGlyphs">Wind Speed (m s<tspan font-size="7" dy="-4">-1</tspan><tspan dy="4">)</tspan></text><text x="344.4" y="264.1" font-size="10.8" text-anchor="middle">0</text><text x="374.73" y="264.1" font-size="10.8" text-anchor="middle">3</text><text x="405.06" y="264.1" font-size="10.8" text-anchor="middle">6</text><text x="435.39" y="264.1" font-size="10.8" text-anchor="middle">9</text><text x="465.71" y="264.1" font-size="10.8" text-anchor="middle">12</text><text x="496.04" y="264.1" font-size="10.8" text-anchor="middle">15</text><text x="526.37" y="264.1" font-size="10.8" text-anchor="middle">18</text><text x="556.7" y="264.1" font-size="10.8" text-anchor="middle">21</text><text x="332.5" y="280.4" font-size="11" text-anchor="end">600</text><text x="332.5" y="298.36" font-size="11" text-anchor="end">650</text><text x="332.5" y="316.32" font-size="11" text-anchor="end">700</text><text x="332.5" y="334.29" font-size="11" text-anchor="end">750</text><text x="332.5" y="352.25" font-size="11" text-anchor="end">800</text><text x="332.5" y="370.21" font-size="11" text-anchor="end">850</text><text x="332.5" y="388.17" font-size="11" text-anchor="end">900</text><text x="332.5" y="406.14" font-size="11" text-anchor="end">950</text><text x="332.5" y="424.1" font-size="11" text-anchor="end">1000</text><text x="0" y="0" font-size="10.8" text-anchor="middle" textLength="73.6" lengthAdjust="spacingAndGlyphs" transform="translate(301.3,348.35) rotate(-90)">Pressure (hPa)</text><text x="529.2" y="291.3" font-size="13" text-anchor="start" textLength="21.7" lengthAdjust="spacingAndGlyphs">CE2</text></g><g font-family='"Liberation Sans", sans-serif' font-weight="bold" fill="#000"><line x1="324.3" y1="444.2" x2="345.1" y2="444.2" stroke="#000000" stroke-width="1.6"/><circle cx="334.6" cy="444.2" r="3.65" fill="#000" stroke="#5b9bd5" stroke-width="0.9"/><text x="346.6" y="448.1" font-size="10.8" text-anchor="start" textLength="17.6" lengthAdjust="spacingAndGlyphs">DJF</text><line x1="374.2" y1="444.2" x2="395" y2="444.2" stroke="#ff0000" stroke-width="1.6"/><path d="M384.5,440.7 L388.2,447.95 L380.8,447.95 Z" fill="#ff0000" stroke="#ed7d31" stroke-width="0.7" stroke-linejoin="miter"/><text x="396.5" y="448.1" font-size="10.8" text-anchor="start" textLength="27.8" lengthAdjust="spacingAndGlyphs">MAM</text><line x1="435.9" y1="444.2" x2="456.7" y2="444.2" stroke="#3a9c3a" stroke-width="1.6"/><rect x="442.5" y="440.5" width="7.4" height="7.4" fill="#3a9c3a" stroke="#a5a5a5" stroke-width="0.6"/><path d="M443,441 L449.4,447.4 M449.4,441 L443,447.4" stroke="#a5a5a5" stroke-width="0.9"/><text x="458.2" y="448.1" font-size="10.8" text-anchor="start" textLength="15.5" lengthAdjust="spacingAndGlyphs">JJA</text><line x1="483.9" y1="444.2" x2="504.7" y2="444.2" stroke="#0000ff" stroke-width="1.6"/><circle cx="494.2" cy="444.2" r="3.6" fill="none" stroke="#0000ff" stroke-width="1.1"/><text x="506.2" y="448.1" font-size="10.8" text-anchor="start" textLength="21.3" lengthAdjust="spacingAndGlyphs">SON</text></g><g stroke="#d9d9d9" stroke-width="1.2" fill="none"><line x1="342.4" y1="512.9" x2="556" y2="512.9"/><line x1="342.4" y1="530.75" x2="556" y2="530.75"/><line x1="342.4" y1="548.6" x2="556" y2="548.6"/><line x1="342.4" y1="566.45" x2="556" y2="566.45"/><line x1="342.4" y1="584.3" x2="556" y2="584.3"/><line x1="342.4" y1="602.15" x2="556" y2="602.15"/><line x1="342.4" y1="620" x2="556" y2="620"/><line x1="342.4" y1="637.85" x2="556" y2="637.85"/><line x1="342.4" y1="655.7" x2="556" y2="655.7"/><line x1="342.4" y1="509.2" x2="342.4" y2="655.7"/><line x1="372.91" y1="509.2" x2="372.91" y2="655.7"/><line x1="403.43" y1="509.2" x2="403.43" y2="655.7"/><line x1="433.94" y1="509.2" x2="433.94" y2="655.7"/><line x1="464.46" y1="509.2" x2="464.46" y2="655.7"/><line x1="494.97" y1="509.2" x2="494.97" y2="655.7"/><line x1="525.49" y1="509.2" x2="525.49" y2="655.7"/><line x1="556" y1="509.2" x2="556" y2="655.7"/></g><path d="M385.1,512.9 C387.2,515.88 392.13,524.8 397.7,530.75 C403.27,536.7 407.86,539.96 418.5,548.6 C433.15,560.5 474.55,590.25 485.6,602.15 C491.68,608.7 489.67,614.05 484.8,620 C479.93,625.95 461.13,634.88 456.4,637.85" fill="none" stroke="#000000" stroke-width="1.85" stroke-linejoin="round" stroke-linecap="round"/><circle cx="385.1" cy="512.9" r="3.65" fill="#000" stroke="#5b9bd5" stroke-width="0.9"/><circle cx="397.7" cy="530.75" r="3.65" fill="#000" stroke="#5b9bd5" stroke-width="0.9"/><circle cx="418.5" cy="548.6" r="3.65" fill="#000" stroke="#5b9bd5" stroke-width="0.9"/><circle cx="485.6" cy="602.15" r="3.65" fill="#000" stroke="#5b9bd5" stroke-width="0.9"/><circle cx="484.8" cy="620" r="3.65" fill="#000" stroke="#5b9bd5" stroke-width="0.9"/><circle cx="456.4" cy="637.85" r="3.65" fill="#000" stroke="#5b9bd5" stroke-width="0.9"/><path d="M411.4,512.9 C413.38,515.88 417.13,524.8 423.3,530.75 C429.47,536.7 436.01,539.45 448.4,548.6 C464.52,560.5 510.28,590.25 520,602.15 C527.04,610.77 515.2,614.05 506.7,620 C498.2,625.95 475.28,634.88 469,637.85" fill="none" stroke="#ff0000" stroke-width="1.85" stroke-linejoin="round" stroke-linecap="round"/><path d="M411.4,509.4 L415.1,516.65 L407.7,516.65 Z" fill="#ff0000" stroke="#ed7d31" stroke-width="0.7" stroke-linejoin="miter"/><path d="M423.3,527.25 L427,534.5 L419.6,534.5 Z" fill="#ff0000" stroke="#ed7d31" stroke-width="0.7" stroke-linejoin="miter"/><path d="M448.4,545.1 L452.1,552.35 L444.7,552.35 Z" fill="#ff0000" stroke="#ed7d31" stroke-width="0.7" stroke-linejoin="miter"/><path d="M520,598.65 L523.7,605.9 L516.3,605.9 Z" fill="#ff0000" stroke="#ed7d31" stroke-width="0.7" stroke-linejoin="miter"/><path d="M506.7,616.5 L510.4,623.75 L503,623.75 Z" fill="#ff0000" stroke="#ed7d31" stroke-width="0.7" stroke-linejoin="miter"/><path d="M469,634.35 L472.7,641.6 L465.3,641.6 Z" fill="#ff0000" stroke="#ed7d31" stroke-width="0.7" stroke-linejoin="miter"/><path d="M420.3,512.9 C422.75,515.88 427,524.8 435,530.75 C443,536.7 452.12,538.86 468.3,548.6 C488.07,560.5 542.58,590.25 553.6,602.15 C562.5,611.77 545.65,614.05 534.4,620 C523.15,625.95 494.15,634.88 486.1,637.85" fill="none" stroke="#3a9c3a" stroke-width="1.85" stroke-linejoin="round" stroke-linecap="round"/><rect x="416.6" y="509.2" width="7.4" height="7.4" fill="#3a9c3a" stroke="#a5a5a5" stroke-width="0.6"/><path d="M417.1,509.7 L423.5,516.1 M423.5,509.7 L417.1,516.1" stroke="#a5a5a5" stroke-width="0.9"/><rect x="431.3" y="527.05" width="7.4" height="7.4" fill="#3a9c3a" stroke="#a5a5a5" stroke-width="0.6"/><path d="M431.8,527.55 L438.2,533.95 M438.2,527.55 L431.8,533.95" stroke="#a5a5a5" stroke-width="0.9"/><rect x="464.6" y="544.9" width="7.4" height="7.4" fill="#3a9c3a" stroke="#a5a5a5" stroke-width="0.6"/><path d="M465.1,545.4 L471.5,551.8 M471.5,545.4 L465.1,551.8" stroke="#a5a5a5" stroke-width="0.9"/><rect x="549.9" y="598.45" width="7.4" height="7.4" fill="#3a9c3a" stroke="#a5a5a5" stroke-width="0.6"/><path d="M550.4,598.95 L556.8,605.35 M556.8,598.95 L550.4,605.35" stroke="#a5a5a5" stroke-width="0.9"/><rect x="530.7" y="616.3" width="7.4" height="7.4" fill="#3a9c3a" stroke="#a5a5a5" stroke-width="0.6"/><path d="M531.2,616.8 L537.6,623.2 M537.6,616.8 L531.2,623.2" stroke="#a5a5a5" stroke-width="0.9"/><rect x="482.4" y="634.15" width="7.4" height="7.4" fill="#3a9c3a" stroke="#a5a5a5" stroke-width="0.6"/><path d="M482.9,634.65 L489.3,641.05 M489.3,634.65 L482.9,641.05" stroke="#a5a5a5" stroke-width="0.9"/><path d="M392.4,512.9 C394.53,515.88 398.77,524.8 405.2,530.75 C411.63,536.7 418.39,539.28 431,548.6 C447.1,560.5 490.82,590.25 501.8,602.15 C508.08,608.95 503.42,614.05 496.9,620 C490.38,625.95 468.4,634.88 462.7,637.85" fill="none" stroke="#0000ff" stroke-width="1.85" stroke-linejoin="round" stroke-linecap="round"/><circle cx="392.4" cy="512.9" r="3.6" fill="none" stroke="#0000ff" stroke-width="1.1"/><circle cx="405.2" cy="530.75" r="3.6" fill="none" stroke="#0000ff" stroke-width="1.1"/><circle cx="431" cy="548.6" r="3.6" fill="none" stroke="#0000ff" stroke-width="1.1"/><circle cx="501.8" cy="602.15" r="3.6" fill="none" stroke="#0000ff" stroke-width="1.1"/><circle cx="496.9" cy="620" r="3.6" fill="none" stroke="#0000ff" stroke-width="1.1"/><circle cx="462.7" cy="637.85" r="3.6" fill="none" stroke="#0000ff" stroke-width="1.1"/><g font-family='"Liberation Sans", sans-serif' font-weight="bold" fill="#000"><text x="289" y="486.2" font-size="10.8" text-anchor="start" textLength="14" lengthAdjust="spacingAndGlyphs">(f)</text><text x="449.2" y="483.1" font-size="11" text-anchor="middle" textLength="96" lengthAdjust="spacingAndGlyphs">Wind Speed (m s<tspan font-size="7" dy="-4">-1</tspan><tspan dy="4">)</tspan></text><text x="342.4" y="500" font-size="10.8" text-anchor="middle">0</text><text x="372.91" y="500" font-size="10.8" text-anchor="middle">3</text><text x="403.43" y="500" font-size="10.8" text-anchor="middle">6</text><text x="433.94" y="500" font-size="10.8" text-anchor="middle">9</text><text x="464.46" y="500" font-size="10.8" text-anchor="middle">12</text><text x="494.97" y="500" font-size="10.8" text-anchor="middle">15</text><text x="525.49" y="500" font-size="10.8" text-anchor="middle">18</text><text x="556" y="500" font-size="10.8" text-anchor="middle">21</text><text x="330.5" y="516.8" font-size="11" text-anchor="end">600</text><text x="330.5" y="534.65" font-size="11" text-anchor="end">650</text><text x="330.5" y="552.5" font-size="11" text-anchor="end">700</text><text x="330.5" y="570.35" font-size="11" text-anchor="end">750</text><text x="330.5" y="588.2" font-size="11" text-anchor="end">800</text><text x="330.5" y="606.05" font-size="11" text-anchor="end">850</text><text x="330.5" y="623.9" font-size="11" text-anchor="end">900</text><text x="330.5" y="641.75" font-size="11" text-anchor="end">950</text><text x="330.5" y="659.6" font-size="11" text-anchor="end">1000</text><text x="0" y="0" font-size="10.8" text-anchor="middle" textLength="73.6" lengthAdjust="spacingAndGlyphs" transform="translate(301.3,584.3) rotate(-90)">Pressure (hPa)</text><text x="528.4" y="526.7" font-size="13" text-anchor="start" textLength="22" lengthAdjust="spacingAndGlyphs">CE3</text></g><g font-family='"Liberation Sans", sans-serif' font-weight="bold" fill="#000"><line x1="322.3" y1="679.6" x2="343.1" y2="679.6" stroke="#000000" stroke-width="1.6"/><circle cx="332.6" cy="679.6" r="3.65" fill="#000" stroke="#5b9bd5" stroke-width="0.9"/><text x="344.6" y="683.5" font-size="10.8" text-anchor="start" textLength="17.6" lengthAdjust="spacingAndGlyphs">DJF</text><line x1="372.2" y1="679.6" x2="393" y2="679.6" stroke="#ff0000" stroke-width="1.6"/><path d="M382.5,676.1 L386.2,683.35 L378.8,683.35 Z" fill="#ff0000" stroke="#ed7d31" stroke-width="0.7" stroke-linejoin="miter"/><text x="394.5" y="683.5" font-size="10.8" text-anchor="start" textLength="27.8" lengthAdjust="spacingAndGlyphs">MAM</text><line x1="433.9" y1="679.6" x2="454.7" y2="679.6" stroke="#3a9c3a" stroke-width="1.6"/><rect x="440.5" y="675.9" width="7.4" height="7.4" fill="#3a9c3a" stroke="#a5a5a5" stroke-width="0.6"/><path d="M441,676.4 L447.4,682.8 M447.4,676.4 L441,682.8" stroke="#a5a5a5" stroke-width="0.9"/><text x="456.2" y="683.5" font-size="10.8" text-anchor="start" textLength="15.5" lengthAdjust="spacingAndGlyphs">JJA</text><line x1="481.9" y1="679.6" x2="502.7" y2="679.6" stroke="#0000ff" stroke-width="1.6"/><circle cx="492.2" cy="679.6" r="3.6" fill="none" stroke="#0000ff" stroke-width="1.1"/><text x="504.2" y="683.5" font-size="10.8" text-anchor="start" textLength="21.3" lengthAdjust="spacingAndGlyphs">SON</text></g></svg></body></html>
